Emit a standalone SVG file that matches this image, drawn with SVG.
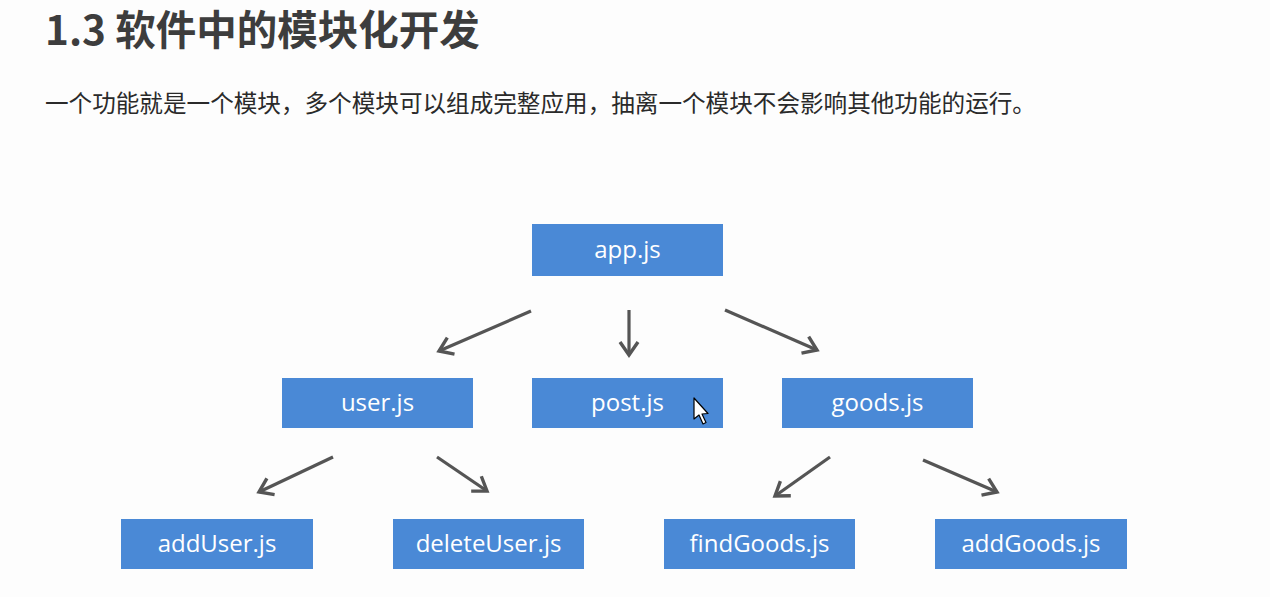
<svg xmlns="http://www.w3.org/2000/svg" width="1270" height="597" viewBox="0 0 1270 597">
<style>
.box{fill:#4A89D6}
.lbl{fill:#fff;font-family:"Open Sans","Noto Sans",sans-serif;font-size:24px;text-anchor:middle}
.conn{stroke:#555;stroke-width:3.2;fill:none;marker-end:url(#arr)}
.title{fill:#3d3d3d;font-family:"Noto Sans CJK SC","Noto Sans",sans-serif;font-weight:bold;font-size:40.5px}
.sub{fill:#2a2a2a;font-family:"Noto Sans CJK SC","Noto Sans",sans-serif;font-size:23.6px}
</style>
<defs>
<marker id="arr" markerUnits="userSpaceOnUse" markerWidth="30" markerHeight="30" viewBox="-15 -15 30 30" refX="0" refY="0" orient="auto">
<path d="M-13,-9 L0,0 L-13,9" fill="none" stroke="#555" stroke-width="3.4" stroke-linejoin="miter"/>
</marker>
</defs>
<rect width="1270" height="597" fill="#fdfdfd"/>
<text class="title" x="45" y="45">1.3 软件中的模块化开发</text>
<text class="sub" x="45" y="112">一个功能就是一个模块，多个模块可以组成完整应用，抽离一个模块不会影响其他功能的运行。</text>
<g id="connectors">
<line class="conn" x1="531" y1="311" x2="439" y2="351"/>
<line class="conn" x1="629" y1="310" x2="629" y2="355"/>
<line class="conn" x1="725" y1="310" x2="817" y2="350"/>
<line class="conn" x1="333" y1="457" x2="259" y2="492"/>
<line class="conn" x1="437" y1="457" x2="487" y2="491"/>
<line class="conn" x1="830" y1="457" x2="775" y2="496"/>
<line class="conn" x1="923" y1="460" x2="997" y2="492"/>
</g>
<g id="app"><rect class="box" x="532" y="224" width="191" height="52"/><text class="lbl" x="627.5" y="258">app.js</text></g>
<g id="user"><rect class="box" x="282" y="378" width="191" height="50"/><text class="lbl" x="377.5" y="411">user.js</text></g>
<g id="post"><rect class="box" x="532" y="378" width="191" height="50"/><text class="lbl" x="627.5" y="411">post.js</text></g>
<g id="goods"><rect class="box" x="782" y="378" width="191" height="50"/><text class="lbl" x="877.5" y="411">goods.js</text></g>
<g id="addUser"><rect class="box" x="121" y="519" width="192" height="50"/><text class="lbl" x="217" y="552">addUser.js</text></g>
<g id="deleteUser"><rect class="box" x="393" y="519" width="191" height="50"/><text class="lbl" x="488.5" y="552">deleteUser.js</text></g>
<g id="findGoods"><rect class="box" x="664" y="519" width="191" height="50"/><text class="lbl" x="759.5" y="552">findGoods.js</text></g>
<g id="addGoods"><rect class="box" x="935" y="519" width="192" height="50"/><text class="lbl" x="1031" y="552">addGoods.js</text></g>
<path d="M694,398 L694,419 L699,415 L703,424 L706,422.5 L702,414 L708,413.5 Z" fill="#fff" stroke="#000" stroke-width="1.2" stroke-linejoin="round"/>
</svg>
